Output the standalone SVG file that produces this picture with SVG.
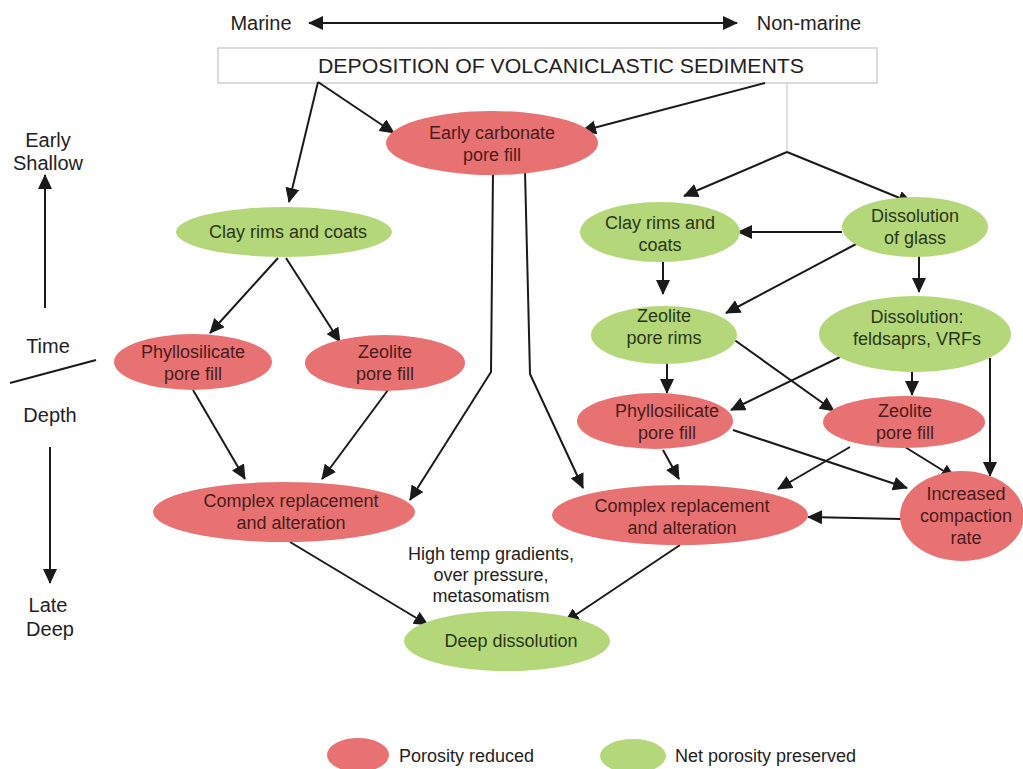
<svg xmlns="http://www.w3.org/2000/svg" width="1023" height="769" viewBox="0 0 1023 769">
<defs>
<marker id="ah" markerUnits="userSpaceOnUse" markerWidth="16" markerHeight="14" refX="14" refY="7" orient="auto">
<path d="M0,0 L15,7 L0,14 Z" fill="#1a1a1a"/>
</marker>
<marker id="ahs" markerUnits="userSpaceOnUse" markerWidth="16" markerHeight="14" refX="1" refY="7" orient="auto">
<path d="M15,0 L0,7 L15,14 Z" fill="#1a1a1a"/>
</marker>
<style>
text{font-family:"Liberation Sans",Arial,sans-serif;font-size:18px;text-anchor:middle}
.red{fill:#e87272}
.grn{fill:#b4d879}
.tr{fill:#4a1b1b}
.tg{fill:#2b3618}
.lab{fill:#222;font-size:20px}
.ln{stroke:#1a1a1a;stroke-width:2;fill:none}
.arr{stroke:#1a1a1a;stroke-width:2;fill:none;marker-end:url(#ah)}
</style>
</defs>
<rect width="1023" height="769" fill="#fff"/>

<g id="axis">
<text class="lab" x="261" y="30">Marine</text>
<text class="lab" x="809" y="30">Non-marine</text>
<line class="arr" x1="309" y1="23" x2="737" y2="23" style="marker-start:url(#ahs)"/>
<text class="lab" x="48" y="147">Early</text>
<text class="lab" x="48" y="170">Shallow</text>
<line class="arr" x1="45" y1="308" x2="45" y2="175"/>
<text class="lab" x="48" y="353">Time</text>
<line class="ln" x1="10" y1="383" x2="96" y2="360"/>
<text class="lab" x="50" y="422">Depth</text>
<line class="arr" x1="50" y1="447" x2="50" y2="583"/>
<text class="lab" x="48" y="612">Late</text>
<text class="lab" x="50" y="636">Deep</text>
</g>

<g id="deposition">
<rect x="218" y="48" width="659" height="35" fill="#fff" stroke="#cfcfcf" stroke-width="1.5"/>
<text class="lab" x="561" y="73" style="font-size:20.5px" textLength="486" lengthAdjust="spacingAndGlyphs">DEPOSITION OF VOLCANICLASTIC SEDIMENTS</text>
</g>

<g id="connectors">
<line x1="787" y1="83" x2="787" y2="152" stroke="#c8c8c8" stroke-width="1.2"/>
<line class="arr" x1="787" y1="152" x2="684" y2="196"/>
<line class="arr" x1="787" y1="152" x2="912" y2="203"/>
<line class="arr" x1="318" y1="82" x2="289" y2="202"/>
<line class="arr" x1="318" y1="82" x2="394" y2="133"/>
<line class="arr" x1="765" y1="83" x2="582" y2="131"/>
<polyline class="arr" points="493,171 491,372 410,500"/>
<polyline class="arr" points="525,171 530,374 583,488"/>
<line class="arr" x1="278" y1="258" x2="210" y2="333"/>
<line class="arr" x1="286" y1="258" x2="340" y2="342"/>
<line class="arr" x1="193" y1="390" x2="245" y2="479"/>
<line class="arr" x1="388" y1="390" x2="322" y2="479"/>
<line class="arr" x1="290" y1="542" x2="428" y2="625"/>
<line class="arr" x1="680" y1="545" x2="565" y2="622"/>
<line class="arr" x1="842" y1="232" x2="738" y2="232"/>
<line class="arr" x1="663" y1="262" x2="663" y2="294"/>
<line class="arr" x1="858" y1="243" x2="726" y2="313"/>
<line class="arr" x1="919" y1="256" x2="919" y2="292"/>
<line class="arr" x1="667" y1="357" x2="667" y2="393"/>
<line class="arr" x1="726" y1="334" x2="834" y2="411"/>
<line class="arr" x1="840" y1="357" x2="731" y2="410"/>
<line class="arr" x1="912" y1="372" x2="912" y2="395"/>
<line class="arr" x1="990" y1="358" x2="990" y2="476"/>
<line class="arr" x1="663" y1="450" x2="679" y2="479"/>
<line class="arr" x1="733" y1="430" x2="907" y2="488"/>
<line class="arr" x1="850" y1="447" x2="778" y2="489"/>
<line class="arr" x1="905" y1="447" x2="955" y2="478"/>
<line class="arr" x1="902" y1="519" x2="808" y2="517"/>
</g>

<g id="early-carbonate">
<ellipse class="red" cx="492" cy="143" rx="106" ry="32"/>
<text class="tr" x="492" y="139">Early carbonate</text>
<text class="tr" x="492" y="161">pore fill</text>
</g>
<g id="clay-left">
<ellipse class="grn" cx="284" cy="232" rx="108" ry="25"/>
<text class="tg" x="288" y="238">Clay rims and coats</text>
</g>
<g id="phyllo-left">
<ellipse class="red" cx="193" cy="362" rx="79" ry="28"/>
<text class="tr" x="193" y="358">Phyllosilicate</text>
<text class="tr" x="193" y="380">pore fill</text>
</g>
<g id="zeolite-left">
<ellipse class="red" cx="385" cy="363" rx="80" ry="28"/>
<text class="tr" x="385" y="358">Zeolite</text>
<text class="tr" x="385" y="380">pore fill</text>
</g>
<g id="complex-left">
<ellipse class="red" cx="284" cy="512" rx="131" ry="30"/>
<text class="tr" x="291" y="507">Complex replacement</text>
<text class="tr" x="291" y="529">and alteration</text>
</g>
<g id="note">
<text class="lab" x="491" y="560" style="font-size:18px">High temp gradients,</text>
<text class="lab" x="491" y="581" style="font-size:18px">over pressure,</text>
<text class="lab" x="491" y="602" style="font-size:18px">metasomatism</text>
</g>
<g id="deep-dissolution">
<ellipse class="grn" cx="507" cy="641" rx="103" ry="30"/>
<text class="tg" x="511" y="647">Deep dissolution</text>
</g>
<g id="clay-right">
<ellipse class="grn" cx="660" cy="232" rx="80" ry="30"/>
<text class="tg" x="660" y="229">Clay rims and</text>
<text class="tg" x="660" y="251">coats</text>
</g>
<g id="dissolution-glass">
<ellipse class="grn" cx="915" cy="227" rx="73" ry="30"/>
<text class="tg" x="915" y="222">Dissolution</text>
<text class="tg" x="915" y="244">of glass</text>
</g>
<g id="zeolite-rims">
<ellipse class="grn" cx="664" cy="335" rx="73" ry="29"/>
<text class="tg" x="664" y="322">Zeolite</text>
<text class="tg" x="664" y="344">pore rims</text>
</g>
<g id="dissolution-feldspars">
<ellipse class="grn" cx="915" cy="334" rx="96" ry="38"/>
<text class="tg" x="917" y="323">Dissolution:</text>
<text class="tg" x="917" y="345">feldsaprs, VRFs</text>
</g>
<g id="phyllo-right">
<ellipse class="red" cx="655" cy="421" rx="78" ry="28"/>
<text class="tr" x="667" y="417">Phyllosilicate</text>
<text class="tr" x="667" y="439">pore fill</text>
</g>
<g id="zeolite-right">
<ellipse class="red" cx="904" cy="422" rx="81" ry="26"/>
<text class="tr" x="905" y="417">Zeolite</text>
<text class="tr" x="905" y="439">pore fill</text>
</g>
<g id="increased-compaction">
<ellipse class="red" cx="962" cy="516" rx="62" ry="45"/>
<text class="tr" x="966" y="500">Increased</text>
<text class="tr" x="966" y="522">compaction</text>
<text class="tr" x="966" y="544">rate</text>
</g>
<g id="complex-right">
<ellipse class="red" cx="680" cy="515" rx="128" ry="30"/>
<text class="tr" x="682" y="512">Complex replacement</text>
<text class="tr" x="682" y="534">and alteration</text>
</g>

<g id="legend">
<ellipse class="red" cx="358" cy="755" rx="31" ry="17"/>
<text class="lab" x="399" y="762" style="text-anchor:start;font-size:18px">Porosity reduced</text>
<ellipse class="grn" cx="633" cy="756" rx="33" ry="17"/>
<text class="lab" x="675" y="762" style="text-anchor:start;font-size:18px">Net porosity preserved</text>
</g>
</svg>
